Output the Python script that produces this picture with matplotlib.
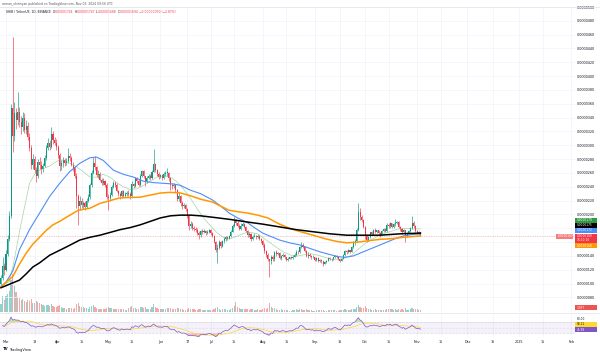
import numpy as np
import pandas as pd
import matplotlib
matplotlib.use("Agg")
import matplotlib.pyplot as plt

W, H = 600, 355

# SHIB/USDT daily candles, prices in millionths of USDT (1.0 = 0.000001)
# day 0 = 2024-03-01, first candle = 2024-02-27
first_open = 10.0

close_feb = [10.8, 12.5, 12.0]
close_mar = [14.3, 16.5, 19.8, 35.4, 31.3, 34.6, 33.6, 34.8, 33.4, 32.6, 34.0, 32.2, 32.8, 31.2, 29.6, 27.2,
             28.0, 26.4, 25.6, 27.6, 27.2, 26.6, 27.0, 28.2, 29.6, 30.4, 29.8, 31.7, 30.8, 30.4, 29.8]
close_apr = [28.6, 27.0, 27.4, 27.9, 27.5, 27.8, 28.4, 28.1, 27.2, 26.7, 25.6, 22.6, 21.2, 22.0, 21.3,
             21.6, 21.1, 22.0, 22.5, 24.2, 26.0, 27.4, 26.8, 25.7, 25.9, 25.0, 24.6, 24.8, 24.2, 22.5]
close_may = [22.4, 22.8, 23.9, 24.6, 24.3, 23.4, 22.9, 22.6, 23.4, 22.7, 22.9, 23.1, 23.0, 22.6, 24.4, 24.1,
             25.2, 24.9, 24.3, 25.6, 26.3, 25.5, 24.8, 25.3, 25.6, 25.2, 26.2, 27.3, 26.4, 25.9, 25.4]
close_jun = [25.7, 25.3, 25.8, 26.0, 26.0, 25.2, 24.3, 24.1, 24.3, 23.5, 22.3, 22.6, 21.7, 21.2, 21.3,
             20.8, 19.8, 18.4, 18.6, 18.1, 17.9, 17.8, 17.3, 17.0, 17.6, 17.5, 17.6, 17.3, 17.5, 17.7]
close_jul = [17.3, 16.9, 16.0, 14.8, 15.2, 16.0, 15.4, 16.1, 16.4, 16.7, 16.5, 16.9, 17.5, 18.4, 19.2, 18.8,
             18.4, 17.9, 18.4, 18.6, 18.2, 17.6, 17.0, 17.2, 16.4, 16.8, 16.9, 16.7, 16.9, 16.4, 16.1]
close_aug = [15.6, 14.7, 14.2, 13.5, 13.2, 13.9, 13.5, 14.6, 14.3, 14.4, 13.7, 14.0, 14.2, 13.8, 13.4, 13.6,
             13.8, 13.7, 13.9, 14.1, 14.6, 14.5, 15.3, 15.6, 15.3, 14.7, 14.0, 14.2, 14.0, 13.8, 13.9]
close_sep = [13.4, 13.7, 13.3, 13.4, 13.2, 12.9, 13.1, 13.3, 13.7, 13.6, 13.5, 13.8, 14.0, 13.8, 13.5,
             13.3, 13.6, 14.1, 14.7, 14.5, 14.8, 14.6, 15.3, 15.9, 16.2, 17.8, 20.4, 19.6, 19.2, 18.2]
close_oct = [16.9, 16.3, 16.7, 17.4, 17.2, 17.8, 17.5, 17.7, 17.3, 17.1, 17.6, 17.9, 17.6, 18.5, 18.3, 18.7,
             18.2, 18.6, 18.8, 18.9, 18.2, 17.9, 17.4, 17.7, 16.9, 17.3, 17.6, 18.0, 18.8, 18.3, 17.6]
close_nov = [17.3, 17.44, 16.94]

high_feb = [11.2, 13.8, 13.0]
high_mar = [14.8, 17.0, 20.5, 36.0, 45.6, 36.2, 35.4, 37.7, 35.6, 34.2, 34.8, 34.6, 33.6, 33.3, 31.8, 30.0,
            28.8, 28.5, 26.9, 28.0, 28.3, 27.7, 27.5, 28.6, 30.0, 31.0, 30.8, 32.6, 32.0, 31.2, 30.9]
high_apr = [30.1, 28.9, 27.9, 28.3, 28.2, 28.1, 29.6, 28.9, 28.4, 27.6, 27.0, 26.0, 23.0, 22.6, 22.4,
            22.0, 21.9, 22.4, 22.9, 24.6, 26.4, 28.3, 28.4, 27.0, 26.4, 26.1, 25.3, 25.2, 25.0, 24.5]
high_may = [22.9, 23.2, 24.3, 24.9, 24.8, 24.5, 23.6, 23.2, 23.6, 23.6, 23.2, 23.4, 23.6, 23.2, 24.8, 24.6,
            25.4, 25.4, 25.1, 25.9, 26.5, 26.4, 25.6, 25.6, 25.9, 25.8, 26.5, 29.4, 27.4, 26.6, 26.1]
high_jun = [25.9, 25.9, 26.1, 26.3, 26.7, 26.2, 25.4, 24.5, 24.6, 24.4, 23.7, 23.2, 22.8, 21.9, 21.6,
            21.5, 21.0, 19.9, 19.0, 18.9, 18.3, 18.2, 18.0, 17.6, 17.8, 17.9, 17.9, 17.8, 17.7, 17.9]
high_jul = [17.9, 17.5, 17.0, 16.1, 15.7, 16.3, 16.2, 16.3, 16.7, 16.9, 16.9, 17.0, 17.7, 18.6, 19.6, 19.4,
            19.0, 18.6, 18.7, 18.9, 18.8, 18.3, 17.8, 17.5, 17.3, 17.0, 17.3, 17.1, 17.2, 17.1, 16.6]
high_aug = [16.3, 15.8, 14.9, 14.4, 13.6, 14.2, 14.2, 14.7, 14.8, 14.6, 14.5, 14.2, 14.4, 14.3, 13.9, 13.8,
            13.9, 14.0, 14.2, 14.4, 14.8, 14.8, 15.5, 16.0, 15.8, 15.4, 14.8, 14.5, 14.4, 14.1, 14.1]
high_sep = [13.9, 13.8, 13.8, 13.6, 13.5, 13.3, 13.2, 13.4, 13.8, 13.8, 13.7, 13.9, 14.2, 14.1, 13.9,
            13.6, 13.7, 14.3, 14.9, 14.8, 15.0, 14.9, 15.5, 16.1, 16.5, 18.0, 21.6, 21.0, 19.9, 19.4]
high_oct = [18.3, 17.0, 16.9, 17.5, 17.6, 17.9, 18.0, 17.8, 17.8, 17.4, 17.7, 18.0, 18.0, 18.7, 18.8, 18.9,
            18.8, 18.8, 19.3, 19.1, 19.1, 18.4, 18.0, 17.9, 17.8, 17.5, 17.7, 18.2, 19.8, 19.1, 18.5]
high_nov = [17.8, 17.6, 17.47]

low_feb = [9.6, 10.5, 11.3]
low_mar = [11.8, 14.0, 16.2, 19.5, 29.0, 30.6, 32.4, 33.0, 32.6, 31.6, 32.0, 31.8, 31.6, 30.8, 29.2, 26.6,
           26.6, 26.0, 24.7, 25.3, 26.6, 25.9, 26.2, 26.8, 27.9, 29.3, 29.3, 29.6, 30.2, 30.0, 29.3]
low_apr = [28.2, 26.3, 26.4, 26.9, 27.0, 27.2, 27.5, 27.8, 27.0, 26.3, 25.2, 21.0, 18.5, 20.6, 21.0,
           20.8, 20.6, 20.9, 21.8, 22.3, 23.9, 25.8, 26.4, 25.4, 25.3, 24.8, 24.2, 24.3, 24.0, 22.2]
low_may = [20.6, 22.0, 22.6, 23.8, 24.0, 23.2, 22.6, 22.2, 22.4, 22.5, 22.5, 22.6, 22.6, 22.3, 22.5, 23.8,
           23.9, 24.6, 24.1, 24.1, 25.4, 25.3, 24.1, 24.6, 25.1, 25.0, 25.1, 26.1, 26.1, 25.5, 25.1]
low_jun = [25.2, 25.0, 25.1, 25.6, 25.6, 24.9, 23.5, 23.7, 23.8, 23.3, 22.0, 22.0, 21.2, 20.8, 20.9,
           20.5, 19.5, 17.8, 18.0, 17.8, 17.6, 17.5, 17.1, 16.4, 16.8, 17.2, 17.3, 17.1, 17.2, 17.3]
low_jul = [17.0, 16.7, 15.8, 14.5, 13.0, 15.0, 15.2, 15.3, 15.9, 16.2, 16.3, 16.4, 16.8, 17.4, 18.2, 18.5,
           18.2, 17.7, 17.7, 18.3, 18.0, 17.4, 16.8, 16.8, 16.2, 16.3, 16.7, 16.5, 16.6, 16.3, 15.9]
low_aug = [15.3, 14.4, 13.9, 13.2, 11.0, 12.8, 13.3, 13.3, 14.0, 14.1, 13.5, 13.4, 13.8, 13.6, 13.2, 13.2,
           13.5, 13.5, 13.5, 13.8, 14.0, 14.3, 14.4, 15.2, 15.1, 14.5, 13.8, 13.7, 13.8, 13.6, 13.7]
low_sep = [13.2, 13.2, 13.1, 13.1, 13.0, 12.6, 12.8, 13.0, 13.2, 13.4, 13.2, 13.4, 13.7, 13.7, 13.4,
           13.1, 13.2, 13.5, 14.0, 14.3, 14.4, 14.4, 14.5, 15.1, 15.6, 16.0, 17.6, 19.2, 18.9, 18.0]
low_oct = [16.4, 16.0, 16.1, 16.6, 17.0, 17.1, 17.3, 17.3, 17.1, 16.8, 17.0, 17.5, 17.4, 17.5, 18.0, 18.1,
           18.0, 18.1, 18.4, 18.6, 18.0, 17.6, 17.2, 17.3, 16.0, 16.8, 17.2, 17.4, 17.9, 18.1, 17.4]
low_nov = [17.0, 17.1, 16.88]

# volume, trillions of SHIB
vol_feb = [8, 16, 12]
vol_mar = [16, 18, 21, 32, 38, 26, 20, 15, 14, 12, 13, 11, 10, 12, 11, 13, 9, 9, 11, 10, 9, 8, 7, 6, 7, 7,
           6, 8, 6, 5, 5]
vol_apr = [6, 7, 5, 4, 4, 3, 4, 4, 4, 3, 4, 8, 9, 6, 5, 5, 4, 4, 3, 5, 6, 7, 5, 4, 3, 3, 3, 3, 3, 4]
vol_may = [5, 4, 4, 3, 3, 3, 3, 3, 3, 3, 2, 2, 4, 5, 6, 4, 4, 3, 3, 5, 5, 4, 5, 3, 3, 3, 5, 8, 5, 4, 3]
vol_jun = [3, 3, 3, 3, 4, 4, 4, 3, 3, 3, 4, 4, 3, 3, 2, 2, 3, 4, 3, 3, 3, 2, 2, 3, 3, 2, 2, 2, 2, 2]
vol_jul = [2, 2, 3, 4, 5, 3, 2, 3, 3, 3, 2, 2, 3, 4, 6, 10, 5, 4, 3, 3, 3, 3, 3, 2, 3, 3, 2, 2, 3, 2, 2]
vol_aug = [3, 4, 3, 4, 9, 5, 4, 4, 3, 2, 2, 3, 2, 2, 2, 2, 1.5, 1.5, 2, 2, 3, 2, 3, 3, 2, 2, 3, 2, 2, 2, 1.5]
vol_sep = [1.5, 2, 2, 2, 2, 2, 1.5, 1.5, 2, 2, 2, 2, 2, 1.5, 1.5, 2, 2, 2, 3, 2, 2, 2, 3, 3, 3, 5, 7, 5, 4, 4]
vol_oct = [6, 4, 3, 3, 2, 2, 3, 2, 2, 2, 2, 2, 2, 3, 3, 3, 3, 2, 3, 2, 3, 2, 3, 2, 4, 2, 2, 3, 4, 3, 3]
vol_nov = [3, 2, 2]

# moving averages (day, value)
ma_green_days = [-3, 0, 2, 5, 8, 11, 14, 17, 20, 23, 26, 29, 32, 35, 38, 42, 46, 50, 54, 58, 62, 66, 70, 74,
                 78, 82, 86, 90, 94, 98, 102, 106, 110, 114, 118, 122, 126, 130, 134, 138, 142, 146, 150,
                 154, 158, 162, 166, 170, 174, 178, 182, 186, 190, 194, 198, 202, 206, 210, 214, 218, 222,
                 226, 230, 234, 238, 242, 247]
ma_green = [9.7, 10.0, 10.3, 13.5, 17.5, 21.0, 24.5, 25.8, 26.4, 26.7, 27.0, 27.5, 27.9, 27.8, 27.4, 26.9,
            26.2, 25.4, 25.4, 25.8, 25.4, 24.6, 24.0, 23.6, 23.7, 24.2, 24.8, 25.4, 25.6, 25.4, 24.7, 23.6,
            22.3, 20.8, 19.4, 18.3, 17.3, 16.6, 16.5, 16.9, 17.3, 17.4, 17.2, 16.5, 15.8, 15.1, 14.5, 14.1,
            14.0, 14.2, 14.3, 14.1, 13.8, 13.5, 13.5, 13.7, 14.1, 15.0, 15.8, 16.4, 16.9, 17.3, 17.6, 17.9,
            18.0, 17.9, 17.9]
ma_blue_days = [-3, 0, 4, 8, 14, 20, 26, 32, 38, 44, 50, 54, 58, 64, 70, 76, 82, 88, 94, 100, 104, 110, 116,
                123, 128, 133, 138, 144, 148, 153, 158, 163, 169, 175, 181, 187, 193, 198, 202, 207, 212,
                217, 222, 227, 232, 237, 242, 247]
ma_blue = [9.6, 10.2, 11.8, 14.9, 17.8, 20.2, 22.6, 24.5, 26.2, 27.4, 28.2, 28.3, 27.8, 26.4, 25.8, 25.4,
           24.8, 24.6, 24.5, 24.4, 24.2, 23.5, 23.0, 22.1, 21.2, 20.2, 19.5, 18.8, 18.1, 17.3, 16.8, 16.3,
           15.9, 15.6, 15.1, 14.6, 14.2, 13.9, 13.8, 14.0, 14.5, 15.0, 15.5, 16.0, 16.5, 16.9, 17.1, 17.2]
ma_orange_days = [-3, 0, 4, 8, 12, 16, 20, 24, 28, 32, 36, 43, 50, 56, 62, 68, 80, 92, 98, 104, 110, 116,
                  123, 128, 133, 138, 144, 150, 156, 163, 170, 177, 183, 190, 197, 203, 210, 216, 223, 230,
                  237, 242, 247]
ma_orange = [9.5, 10.2, 11.0, 12.8, 14.4, 15.7, 16.7, 17.7, 18.5, 19.0, 19.6, 20.6, 20.9, 21.6, 22.0, 22.4,
             22.5, 23.1, 23.2, 23.1, 22.7, 22.2, 21.8, 21.2, 20.6, 20.4, 20.2, 19.9, 19.5, 18.6, 17.9, 17.4,
             17.0, 16.5, 16.1, 15.9, 16.0, 16.2, 16.4, 16.5, 16.7, 16.8, 16.9]
ma_black_days = [-3, 0, 4, 8, 12, 16, 20, 26, 31, 36, 44, 50, 56, 62, 68, 74, 80, 86, 92, 98, 104, 110, 116,
                 123, 133, 144, 153, 163, 173, 183, 193, 203, 213, 223, 235, 247]
ma_black = [9.4, 9.7, 10.1, 10.5, 11.4, 12.4, 13.0, 14.1, 14.7, 15.3, 16.3, 16.7, 17.0, 17.4, 17.8, 18.1,
            18.5, 19.0, 19.5, 19.8, 19.9, 19.9, 19.8, 19.6, 19.3, 18.9, 18.6, 18.2, 17.8, 17.5, 17.2, 17.0,
            17.0, 17.0, 17.2, 17.3]

# RSI averages carried in from the days before the visible range
rsi_seed_gain = 0.4
rsi_seed_loss = 0.4

tick_days = [0, 17, 31, 45, 61, 75, 92, 108, 122, 136, 153, 167, 184, 199, 214, 228, 245, 259, 275, 290,
             306, 320, 337]
tick_labels = ["Mar", "18", "Apr", "15", "May", "15", "Jun", "17", "Jul", "15", "Aug", "15", "Sep", "16",
               "Oct", "15", "Nov", "15", "Dec", "16", "2025", "15", "Feb"]
price_ticks = list(range(8, 51, 2))
hidden_price_labels = [16, 18]   # covered by the value labels on the price scale

closes = np.array(close_feb + close_mar + close_apr + close_may + close_jun + close_jul + close_aug +
                  close_sep + close_oct + close_nov)
highs = np.array(high_feb + high_mar + high_apr + high_may + high_jun + high_jul + high_aug + high_sep +
                 high_oct + high_nov)
lows = np.array(low_feb + low_mar + low_apr + low_may + low_jun + low_jul + low_aug + low_sep + low_oct +
                low_nov)
volume = np.array(vol_feb + vol_mar + vol_apr + vol_may + vol_jun + vol_jul + vol_aug + vol_sep + vol_oct +
                  vol_nov, dtype=float)
opens = np.concatenate([[first_open], closes[:-1]])
days = np.arange(len(closes)) - 3
highs = np.maximum(highs, np.maximum(opens, closes))
lows = np.minimum(lows, np.minimum(opens, closes))

UP, DOWN = "#089981", "#f23645"
up = closes >= opens
cols = np.where(up, UP, DOWN)


def rect(x0, y0, x1, y1):
    return [x0 / W, 1 - y1 / H, (x1 - x0) / W, (y1 - y0) / H]


def px_to_fig(x, y):
    return x / W, 1 - y / H


fig = plt.figure(figsize=(W / 100, H / 100), dpi=100)
fig.patch.set_facecolor("white")

xlim = (-3.58, 339.1)
ax_vol = fig.add_axes(rect(0, 7, 575, 312))
ax = fig.add_axes(rect(0, 7, 575, 312), sharex=ax_vol)
ax_rsi = fig.add_axes(rect(0, 313, 575, 337), sharex=ax_vol)
ax.patch.set_alpha(0)

for a in (ax_vol, ax, ax_rsi):
    for s in a.spines.values():
        s.set_visible(False)
ax_vol.set_xlim(*xlim)

# volume
ax_vol.bar(days, volume, width=0.7, color=np.where(up, "#26a69a", "#ef5350"), alpha=0.5, linewidth=0)
ax_vol.set_ylim(0, 305)
ax_vol.set_yticks([])
ax_vol.tick_params(axis="x", length=0, labelbottom=False)
ax_vol.grid(axis="x", color="#f0f3fa", lw=0.5)
ax_vol.set_axisbelow(True)

# price
ax.set_ylim(50 - 305 / 6.915, 50)
ax.set_yticks(price_ticks)
ax.set_yticklabels(["" if v in hidden_price_labels else "%.7f" % (v / 1e6) for v in price_ticks])
ax.yaxis.tick_right()
ax.tick_params(axis="y", length=0, pad=1.5, labelsize=2.4, labelcolor="#131722")
ax.tick_params(axis="x", length=0, labelbottom=False)
ax.grid(axis="y", color="#f0f3fa", lw=0.5)
ax.set_axisbelow(True)

ax.vlines(days, lows, highs, colors=cols, lw=0.45, zorder=2)
ax.bar(days, np.maximum(np.abs(closes - opens), 0.08), bottom=np.minimum(opens, closes), width=0.62,
       color=cols, linewidth=0, zorder=2)

ax.plot(ma_green_days, ma_green, color="#66bb6a", lw=0.5, alpha=0.6, zorder=3)
ax.plot(ma_blue_days, ma_blue, color="#4d8ef7", lw=0.8, zorder=3)
ax.plot(ma_orange_days, ma_orange, color="#ff9800", lw=1.1, zorder=3)
ax.plot(ma_black_days, ma_black, color="#000000", lw=1.1, zorder=3)

ax.axhline(closes[-1], color=DOWN, lw=0.5, ls=(0, (1, 1.5)), alpha=0.6, zorder=1)

# RSI 14 (Wilder) with 14 SMA
diff = np.diff(closes)
g, l = rsi_seed_gain, rsi_seed_loss
rsi = []
for d in diff:
    g = (g * 13 + max(d, 0)) / 14
    l = (l * 13 + max(-d, 0)) / 14
    rsi.append(100 - 100 / (1 + g / l))
rsi = np.array(rsi)
rsi_days = days[1:]
rsi_ma = pd.Series(rsi).rolling(14, min_periods=1).mean().to_numpy()

ax_rsi.set_ylim(17.8, 101.3)
ax_rsi.axhspan(30, 70, color="#7e57c2", alpha=0.08, lw=0)
for lvl in (70, 50, 30):
    ax_rsi.axhline(lvl, color="#9598a1", lw=0.4, ls=(0, (1, 1.5)), alpha=0.8 if lvl != 50 else 0.4)
ax_rsi.fill_between(rsi_days, rsi, 70, where=rsi > 70, color="#4caf50", alpha=0.35, lw=0, interpolate=True)
ax_rsi.fill_between(rsi_days, rsi, 30, where=rsi < 30, color="#f23645", alpha=0.35, lw=0, interpolate=True)
ax_rsi.plot(rsi_days, rsi_ma, color="#fdd835", lw=0.5)
ax_rsi.plot(rsi_days, rsi, color="#7e57c2", lw=0.5)
ax_rsi.set_yticks([])
ax_rsi.set_xticks(tick_days)
ax_rsi.set_xticklabels(tick_labels)
ax_rsi.tick_params(axis="x", length=0, pad=2.0, labelsize=2.4, labelcolor="#131722")
ax_rsi.grid(axis="x", color="#f0f3fa", lw=0.5)
ax_rsi.set_axisbelow(True)
ax_rsi.set_xlim(*xlim)

# pane separators
fig.add_artist(plt.Line2D([0, 1], [1 - 312.5 / H] * 2, color="#e0e3eb", lw=0.5))
fig.add_artist(plt.Line2D([0, 1], [1 - 6.5 / H] * 2, color="#e0e3eb", lw=0.5))

# header
fig.text(*px_to_fig(2, 3.5), "arman_shirinyan published on TradingView.com, Nov 03, 2024 09:56 UTC",
         fontsize=2.2, color="#555555", va="center", ha="left")
t = fig.text(*px_to_fig(6, 12), "SHIB / TetherUS, 1D, BINANCE", fontsize=2.2, color="#131722",
             va="center", ha="left")
pieces = [("  O", "#131722"), ("0.00001744", DOWN), (" H", "#131722"), ("0.00001747", DOWN),
          (" L", "#131722"), ("0.00001688", DOWN), (" C", "#131722"), ("0.00001694", DOWN),
          (" \u22120.00000050 (\u22122.87%)", DOWN)]
for txt, c in pieces:
    t = ax.annotate(txt, xy=(1, 0), xycoords=t, va="bottom", ha="left", fontsize=2.2, color=c)


# right-axis value labels
def axis_label(y, text, fc, tc="white", x=574.5, h=5.0, w=22):
    fig.patches.append(plt.Rectangle(px_to_fig(x, y + h / 2), w / W, h / H, transform=fig.transFigure,
                                     facecolor=fc, edgecolor="none", figure=fig))
    if text:
        fig.text(*px_to_fig(x + 2.5, y), text, fontsize=2.1, color=tc, va="center", ha="left")


axis_label(220.0, "0.0000179", "#2e9b3e")
axis_label(225.2, "0.0000175", "#000000")
axis_label(230.4, "0.0000172", "#4d8ef7")
axis_label(238.2, "", DOWN, h=9.4)
fig.text(*px_to_fig(577, 236.0), "0.0000169", fontsize=2.1, color="white", va="center", ha="left")
fig.text(*px_to_fig(577, 240.4), "16:10:10", fontsize=2.1, color="white", va="center", ha="left")
axis_label(245.8, "0.0000168", "#ff9800")
axis_label(307.8, "1.93T", "#ef5350")
axis_label(324.4, "58.11", "#fdd835", tc="#131722")
axis_label(329.6, "45.39", "#7e57c2")
fig.text(*px_to_fig(577, 319.0), "80.00", fontsize=2.1, color="#131722", va="center", ha="left")

# price label on chart
fig.patches.append(plt.Rectangle(px_to_fig(556, 238.6), 17 / W, 5 / H, transform=fig.transFigure,
                                 facecolor="#f77c80", edgecolor="none", figure=fig))
fig.text(*px_to_fig(557.5, 236.1), "0.0000169", fontsize=2.1, color="white", va="center", ha="left")

# logo
fig.text(*px_to_fig(3, 349.5), "TV", fontsize=2.8, color="#131722", va="center", ha="left", weight="bold")
fig.text(*px_to_fig(9, 349.5), "TradingView", fontsize=2.6, color="#131722", va="center", ha="left")

fig.savefig("out.png", dpi=100, facecolor="white")
